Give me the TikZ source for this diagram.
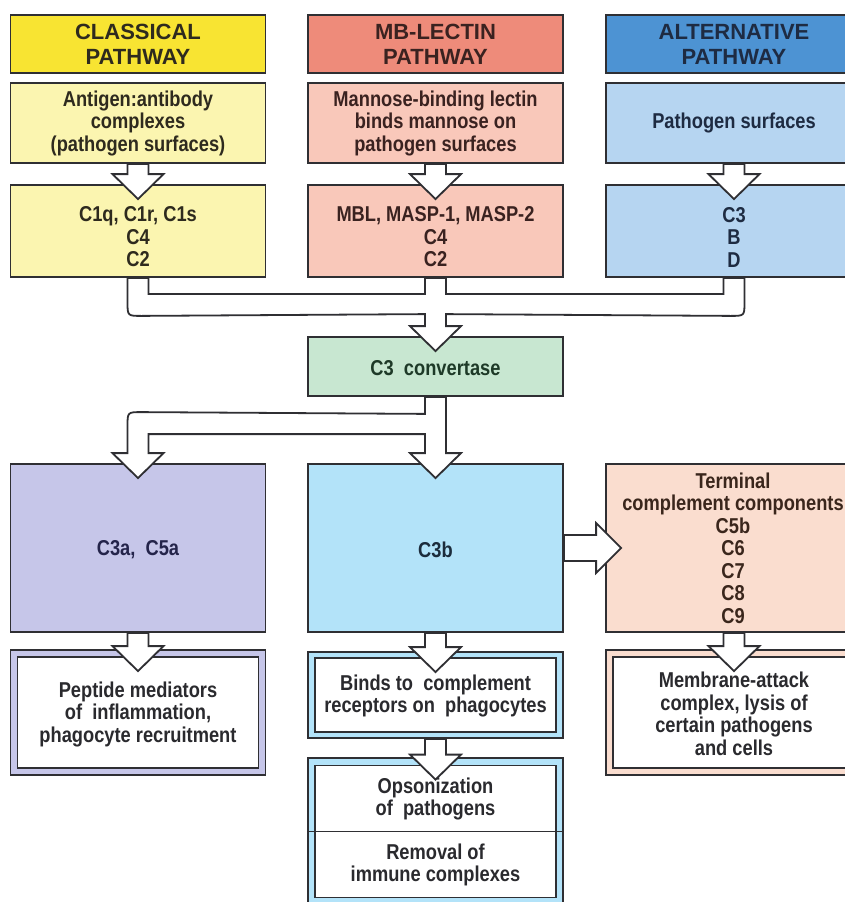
\documentclass[tikz,border=0pt]{standalone}
\usepackage{fontspec}
\setmainfont{Liberation Sans}
\newfontfamily\bodyfam{Liberation Sans}[FakeStretch=0.85]
\usetikzlibrary{calc}
\definecolor{linec}{HTML}{2F2F33}
\definecolor{textc}{HTML}{2A2A2E}
\definecolor{tyel}{HTML}{2E2A1E}
\definecolor{tred}{HTML}{3A2220}
\definecolor{tblu}{HTML}{1E2B42}
\definecolor{tgrn}{HTML}{1E3A28}
\definecolor{tlav}{HTML}{24244A}
\definecolor{tcyn}{HTML}{1C2C3C}
\definecolor{tpch}{HTML}{3A261C}
\definecolor{yhead}{HTML}{F8E432}
\definecolor{ylight}{HTML}{FBF5B0}
\definecolor{rhead}{HTML}{EE8B7A}
\definecolor{rlight}{HTML}{F9C8BA}
\definecolor{bhead}{HTML}{4D93D3}
\definecolor{blight}{HTML}{B6D5F1}
\definecolor{gconv}{HTML}{C8E7D1}
\definecolor{lav}{HTML}{C6C6E9}
\definecolor{cyanb}{HTML}{B3E3F9}
\definecolor{peach}{HTML}{FADDCF}
\newcommand{\bodyfnt}{\bodyfam\fontsize{21.5}{22.5}\selectfont\bfseries}
\newcommand{\headfnt}{\fontsize{22}{25}\selectfont\bfseries}
\tikzset{
  boxbase/.style={draw=linec, line width=1.8pt, inner sep=0pt, text=textc, align=center, font=\bodyfnt},
  hdrbox/.style={boxbase, font=\headfnt, minimum height=58pt},
  colw/.style={minimum width=255pt},
  innerw/.style={minimum width=241pt},
  txt/.style={text=textc, align=center, font=\bodyfnt, inner sep=0pt},
  arr/.style={draw=linec, fill=white, line width=1.8pt, line join=miter},
}
\newcommand{\varrow}[2]{%
  \draw[arr] ($(#1.south)+(-10.5,0)$) -- ($(#1.south |- #2.north)+(-10.5,-10)$)
    -- ($(#1.south |- #2.north)+(-25.5,-10)$) -- ($(#1.south |- #2.north)+(0,15)$)
    -- ($(#1.south |- #2.north)+(25.5,-10)$) -- ($(#1.south |- #2.north)+(10.5,-10)$)
    -- ($(#1.south)+(10.5,0)$) -- cycle;}
\begin{document}
\begin{tikzpicture}[x=1pt,y=-1pt]
\useasboundingbox (0,0) rectangle (845,902);
\clip (0,0) rectangle (845,902);
\fill[white] (0,0) rectangle (845,902);
% headers
\node[hdrbox, colw, fill=yhead, text=tyel] (hcls) at (138,44) {CLASSICAL\\PATHWAY};
\node[hdrbox, colw, fill=rhead, text=tred] (hmbl) at (435.5,44) {MB-LECTIN\\PATHWAY};
\node[hdrbox, minimum width=256pt, fill=bhead, text=tblu] (halt) at (734,44) {ALTERNATIVE\\PATHWAY};
% second row
\node[boxbase, colw, minimum height=80pt, fill=ylight, text=tyel] (cls2) at (138,123) {Antigen:antibody\\complexes\\(pathogen surfaces)};
\node[boxbase, colw, minimum height=80pt, fill=rlight, text=tred] (mbl2) at (435.5,123) {Mannose-binding lectin\\binds mannose on\\pathogen surfaces};
\node[boxbase, minimum width=256pt, minimum height=80pt, fill=blight, text=tblu] (alt2) at (734,123) {Pathogen surfaces};
% third row
\node[boxbase, colw, minimum height=92pt, fill=ylight] (cls3) at (138,231) {};
\node[boxbase, colw, minimum height=92pt, fill=rlight] (mbl3) at (435.5,231) {};
\node[boxbase, minimum width=256pt, minimum height=92pt, fill=blight] (alt3) at (734,231) {};
% convertase
\node[boxbase, colw, minimum height=59pt, fill=gconv] (conv) at (435.5,366.5) {};
% effector row
\node[boxbase, colw, minimum height=168pt, fill=lav] (c3a) at (138,548) {};
\node[boxbase, colw, minimum height=168pt, fill=cyanb] (c3b) at (435.5,548) {};
\node[boxbase, minimum width=256pt, minimum height=168pt, fill=peach] (term) at (734,548) {};
% outcome boxes
\node[boxbase, colw, minimum height=125pt, fill=lav] (pep) at (138,712.5) {};
\node[boxbase, innerw, minimum height=111pt, fill=white] (pepin) at (138,712.5) {};
\node[boxbase, colw, minimum height=86pt, fill=cyanb] (bind) at (435.5,695) {};
\node[boxbase, innerw, minimum height=74pt, fill=white] (bindin) at (435.5,695) {};
\node[boxbase, colw, minimum height=147pt, fill=cyanb] (ops) at (435.5,831.5) {};
\node[boxbase, innerw, minimum height=132pt, fill=white] (opsin) at (435.5,831.5) {};
\draw[draw=linec, line width=1.8pt] (ops.west) -- (ops.east);
\node[boxbase, minimum width=256pt, minimum height=125pt, fill=peach] (mem) at (734,712.5) {};
\node[boxbase, minimum width=242pt, minimum height=111pt, fill=white] (memin) at (734,712.5) {};
% arrows
\varrow{cls2}{cls3}
\varrow{mbl2}{mbl3}
\varrow{alt2}{alt3}
\draw[arr] ($(cls3.south)+(-10.5,0)$) -- ($(cls3.south)+(-10.5,24)$)
  .. controls ($(cls3.south)+(-10.5,38)$) .. ($(cls3.south)+(3.5,38)$)
  -- ($(conv.north)+(-10.5,-22)$) -- ($(conv.north)+(-10.5,-10)$)
  -- ($(conv.north)+(-25.5,-10)$) -- ($(conv.north)+(0,15)$)
  -- ($(conv.north)+(25.5,-10)$) -- ($(conv.north)+(10.5,-10)$)
  -- ($(conv.north)+(10.5,-22)$) -- ($(alt3.south)+(-3.5,38)$)
  .. controls ($(alt3.south)+(10.5,38)$) .. ($(alt3.south)+(10.5,24)$)
  -- ($(alt3.south)+(10.5,0)$) -- ($(alt3.south)+(-10.5,0)$)
  -- ($(alt3.south)+(-10.5,16)$) -- ($(mbl3.south)+(10.5,16)$)
  -- ($(mbl3.south)+(10.5,0)$) -- ($(mbl3.south)+(-10.5,0)$)
  -- ($(mbl3.south)+(-10.5,16)$) -- ($(cls3.south)+(10.5,16)$)
  -- ($(cls3.south)+(10.5,0)$) -- cycle;
\draw[arr] ($(conv.south)+(-10.5,0)$) -- ($(conv.south)+(-10.5,17)$)
  -- ($(c3a.north)+(3.5,-51)$)
  .. controls ($(c3a.north)+(-10.5,-51)$) .. ($(c3a.north)+(-10.5,-37)$)
  -- ($(c3a.north)+(-10.5,-10)$) -- ($(c3a.north)+(-25.5,-10)$)
  -- ($(c3a.north)+(0,15)$) -- ($(c3a.north)+(25.5,-10)$)
  -- ($(c3a.north)+(10.5,-10)$) -- ($(c3a.north)+(10.5,-29)$)
  -- ($(c3b.north)+(-10.5,-29)$) -- ($(c3b.north)+(-10.5,-10)$)
  -- ($(c3b.north)+(-25.5,-10)$) -- ($(c3b.north)+(0,15)$)
  -- ($(c3b.north)+(25.5,-10)$) -- ($(c3b.north)+(10.5,-10)$)
  -- ($(conv.south)+(10.5,0)$) -- cycle;
\draw[arr] ($(c3b.east)+(0,-13)$) -- ($(term.west |- c3b.east)+(-9,-13)$)
  -- ($(term.west |- c3b.east)+(-9,-25)$) -- ($(term.west |- c3b.east)+(16,0)$)
  -- ($(term.west |- c3b.east)+(-9,25)$) -- ($(term.west |- c3b.east)+(-9,13)$)
  -- ($(c3b.east)+(0,13)$) -- cycle;
\varrow{c3a}{pepin}
\varrow{c3b}{bindin}
\varrow{bind}{opsin}
\varrow{term}{memin}
% texts
\node[txt, text=tyel] (tcls3) at (138,237) {C1q, C1r, C1s\\C4\\C2};
\node[txt, text=tred] (tmbl3) at (435.5,237) {MBL, MASP-1, MASP-2\\C4\\C2};
\node[txt, text=tblu] (talt3) at (734,237) {C3\\B\\D};
\node[txt, text=tgrn] (tconv) at (435.5,368) {C3~ convertase};
\node[txt, text=tlav] (tc3a) at (138,550) {C3a,~ C5a};
\node[txt, text=tcyn] (tc3b) at (435.5,550) {C3b};
\node[txt, text=tpch] (tterm) at (733,548) {Terminal\\complement components\\C5b\\C6\\C7\\C8\\C9};
\node[txt] (tpep) at (138,714) {Peptide mediators\\of~ inflammation,\\phagocyte recruitment};
\node[txt] (tbind) at (435.5,696) {Binds to~ complement\\receptors on~ phagocytes};
\node[txt] (tops1) at (435.5,799) {Opsonization\\of~ pathogens};
\node[txt] (tops2) at (435.5,865) {Removal of\\immune complexes};
\node[txt] (tmem) at (734,714) {Membrane-attack\\complex, lysis of\\certain pathogens\\and cells};
\end{tikzpicture}
\end{document}
